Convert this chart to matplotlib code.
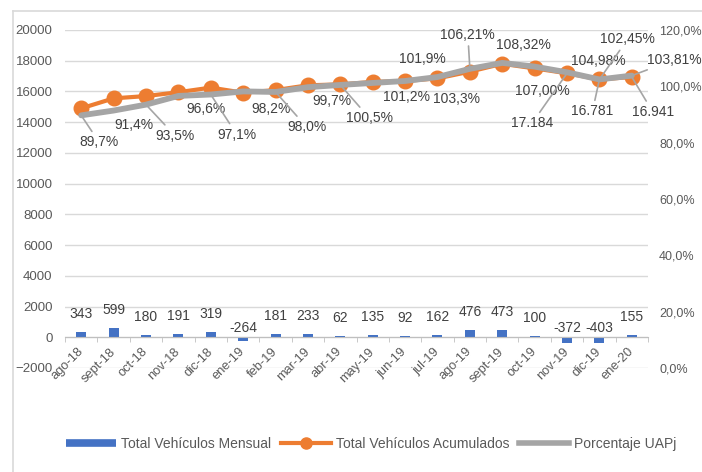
import matplotlib
matplotlib.use("Agg")
import matplotlib.pyplot as plt
from matplotlib.lines import Line2D
from matplotlib.ticker import FuncFormatter, FixedLocator

plt.rcParams['font.family'] = ['Liberation Sans', 'DejaVu Sans']

# data
months = ["ago-18", "sept-18", "oct-18", "nov-18", "dic-18", "ene-19", "feb-19",
          "mar-19", "abr-19", "may-19", "jun-19", "jul-19", "ago-19", "sept-19",
          "oct-19", "nov-19", "dic-19", "ene-20"]
mensual = [343, 599, 180, 191, 319, -264, 181, 233, 62, 135, 92, 162, 476, 473,
           100, -372, -403, 155]
acumulado = [14900, 15550, 15700, 15950, 16250, 15920, 16090, 16400, 16460, 16620,
             16680, 16850, 17290, 17800, 17500, 17184, 16781, 16941]
pct_txt = ["89,7", "91,4", "93,5", "96,6", "97,1", "98,2", "98,0", "99,7", "100,5",
           "101,2", "101,9", "103,3", "106,21", "108,32", "107,00", "104,98",
           "102,45", "103,81"]
pct = [float(s.replace(",", ".")) for s in pct_txt]
acum_labeled = [15, 16, 17]   # months whose accumulated value is labelled

BLUE = "#4472C4"
ORANGE = "#ED7D31"
GRAY = "#A5A5A5"
GRID = "#D9D9D9"
TXT = "#595959"
LBL = "#404040"

fig = plt.figure(figsize=(7.02, 4.72), dpi=100)
ax = fig.add_axes([65/702, 1-368/472, 583/702, 338/472])
ax2 = ax.twinx()

x = list(range(len(months)))

ax.bar(x, mensual, width=0.31, color=BLUE, zorder=2)
ax.plot(x, acumulado, color=ORANGE, lw=3, marker='o', ms=10.5, zorder=3)
ax2.plot(x, [p/100 for p in pct], color=GRAY, lw=4.2, solid_capstyle='round', zorder=4)

ax.set_xlim(-0.5, len(months)-0.5)
ax.set_ylim(-2000, 20000)
ax2.set_ylim(0, 1.2)
ax.set_yticks(range(-2000, 20001, 2000))
ax2.set_yticks([0, 0.2, 0.4, 0.6, 0.8, 1.0, 1.2])
ax2.yaxis.set_major_formatter(FuncFormatter(lambda v, p: f"{v*100:.1f}%".replace(".", ",")))

ax.yaxis.grid(True, color=GRID, lw=1)
ax.set_axisbelow(True)
for s in ["top", "right", "left"]:
    ax.spines[s].set_visible(False)
for s in ax2.spines.values():
    s.set_visible(False)
ax.spines["bottom"].set_position(("data", 0))
ax.spines["bottom"].set_color("#BFBFBF")

ax.set_xticks(x)
ax.set_xticklabels(months, rotation=45, ha="right", va="center",
                   rotation_mode="anchor", color=TXT, fontsize=9.3)
ax.xaxis.set_minor_locator(FixedLocator([i - 0.5 for i in range(len(months)+1)]))
ax.tick_params(axis="x", which="major", length=0, pad=9)
ax.tick_params(axis="x", which="minor", length=3.5, color="#BFBFBF")
ax.tick_params(axis="y", length=0, pad=9, labelsize=9.5, labelcolor=TXT)
ax2.tick_params(axis="y", length=0, pad=8, labelsize=9, labelcolor=TXT)

# bar labels
for i, v in enumerate(mensual):
    if v >= 0:
        ax.annotate(str(v), (i, v), xytext=(0, 18), textcoords="offset pixels",
                    ha="center", va="center", fontsize=10, color=LBL)
    else:
        ax.annotate(str(v), (i, 0), xytext=(0, 9), textcoords="offset pixels",
                    ha="center", va="center", fontsize=10, color=LBL)

# percentage labels: offsets in pixels (dx, dy down), leader flag
pct_pos = [(18, 27, 1), (20, 14, 0), (29, 31, 1), (28, 13, 0), (26, 40, 1),
           (28, 18, 0), (31, 35, 1), (24, 14, 0), (29, 33, 1), (34, 14, 0),
           (17, -22, 0), (19, 22, 0), (-2, -34, 1), (21, -18, 0), (8, 24, 0),
           (31, -11, 0), (28, -40, 1), (43, -16, 1)]
for i, (dx, dy, lead) in enumerate(pct_pos):
    ap = dict(arrowstyle="-", color=GRAY, lw=1.2, shrinkA=1, shrinkB=0) if lead else None
    ax2.annotate(pct_txt[i] + "%", (i, pct[i]/100), xytext=(dx, -dy),
                 textcoords="offset pixels", ha="center", va="center",
                 fontsize=10, color=LBL, arrowprops=ap, zorder=5)

acum_pos = [(-35, 50), (-7, 32), (21, 35)]
for k, (dx, dy) in zip(acum_labeled, acum_pos):
    txt = f"{acumulado[k]:,}".replace(",", ".")
    ax2.annotate(txt, (k, (acumulado[k] + 2000) / 22000 * 1.2), xytext=(dx, -dy),
                 textcoords="offset pixels", ha="center", va="center",
                 fontsize=10, color=LBL,
                 arrowprops=dict(arrowstyle="-", color=GRAY, lw=1.2, shrinkA=1, shrinkB=0),
                 zorder=5)

# legend
handles = [Line2D([], [], color=BLUE, lw=5.5, solid_capstyle="butt"),
           Line2D([], [], color=ORANGE, lw=3, marker="o", ms=8),
           Line2D([], [], color=GRAY, lw=4)]
fig.legend(handles, ["Total Vehículos Mensual", "Total Vehículos Acumulados", "Porcentaje UAPj"],
           loc="center", bbox_to_anchor=(371/702, 1-444/472), ncol=3, frameon=False,
           fontsize=10, handlelength=3.6, columnspacing=0.7, handletextpad=0.35,
           labelcolor=TXT)

# chart border
fig.add_artist(Line2D([12.5/702, 12.5/702], [0, 1-11/472], color=GRID, lw=1.2))
fig.add_artist(Line2D([12.5/702, 1], [1-11/472, 1-11/472], color=GRID, lw=1.2))

fig.savefig("out.png", dpi=100)
